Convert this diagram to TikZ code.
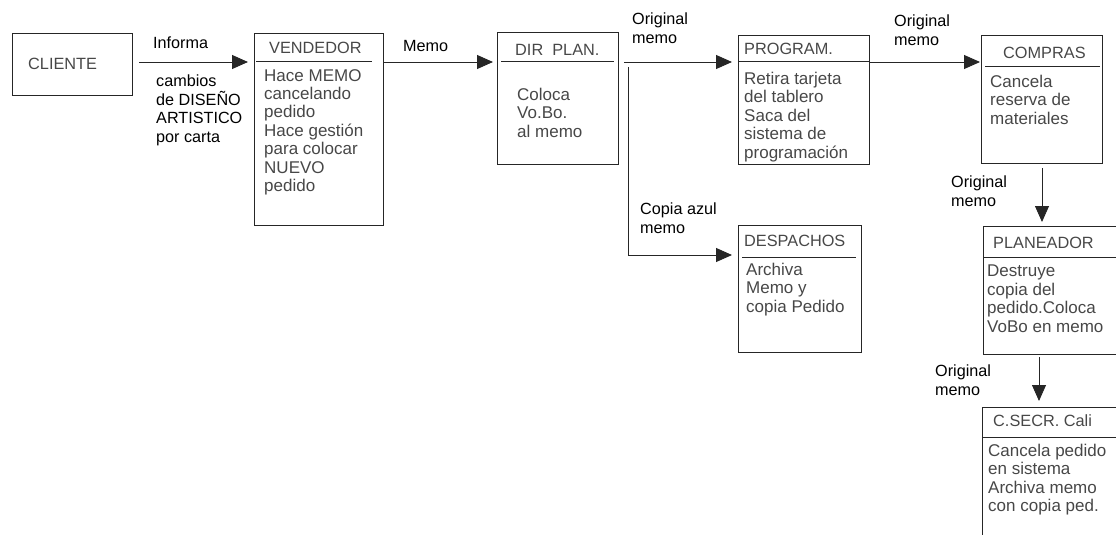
\documentclass[tikz,border=0pt]{standalone}
\usepackage{fontspec}
\setmainfont{Liberation Sans}
\usetikzlibrary{arrows.meta,calc}
\begin{document}
\begin{tikzpicture}[x=1pt,y=-1pt,
  box/.style={draw=black!85,line width=1pt,inner sep=0pt,anchor=north west},
  ttl/.style={anchor=west,inner sep=0pt,text=black!72,font=\fontsize{16.3}{18.4}\selectfont},
  body/.style={anchor=north west,inner sep=0pt,align=left,text=black!72,font=\fontsize{17}{18.4}\selectfont},
  lbl/.style={anchor=north west,inner sep=0pt,align=left,text=black,font=\fontsize{16.2}{18.4}\selectfont},
  sepline/.style={draw=black!85,line width=1pt},
  arr/.style={draw=black!85,line width=0.9pt,-{Triangle[length=16pt,width=14pt]}}]

\useasboundingbox (0,0) rectangle (1116,535);
\clip (0,0) rectangle (1116,535);

% helper coordinates
\coordinate (y62) at (0,62);
\coordinate (y255) at (0,255);
\coordinate (split) at (628,67);
\coordinate (c6) at (1039,0);

% boxes
\node[box,minimum width=120pt,minimum height=62pt] (cliente) at (12,33) {};
\node[box,minimum width=129pt,minimum height=192pt] (vend) at (254,33) {};
\node[box,minimum width=121pt,minimum height=132pt] (dir) at (497,32) {};
\node[box,minimum width=131pt,minimum height=129pt] (prog) at (738,35) {};
\node[box,minimum width=121pt,minimum height=128pt] (comp) at (981,35) {};
\node[box,minimum width=123pt,minimum height=127pt] (desp) at (738,225) {};
\node[box,minimum width=140pt,minimum height=128pt] (plan) at (983,226) {};
\node[box,minimum width=140pt,minimum height=140pt] (csecr) at (982,407) {};

% separators
\draw[sepline] ($(vend.north west)+(2,29)$) -- ++(116,0);
\draw[sepline] ($(dir.north west)+(4,30)$) -- ++(113,0);
\draw[sepline] ($(prog.north west)+(0,27)$) -- ++(131,0);
\draw[sepline] ($(comp.north west)+(4,32)$) -- ++(115,0);
\draw[sepline] ($(desp.north west)+(4,32)$) -- ++(114,0);
\draw[sepline] ($(plan.north west)+(0,31)$) -- ++(140,0);
\draw[sepline] ($(csecr.north west)+(0,30)$) -- ++(140,0);

% titles
\node[ttl] (t-cliente) at (28,63.5) {CLIENTE};
\node[ttl] (t-vend) at (269,47.5) {VENDEDOR};
\node[ttl] (t-dir) at (515,49.5) {DIR\ \ PLAN.};
\node[ttl] (t-prog) at (744,49) {PROGRAM.};
\node[ttl] (t-comp) at (1003,52.5) {COMPRAS};
\node[ttl] (t-desp) at (744,241) {DESPACHOS};
\node[ttl] (t-plan) at (993,243) {PLANEADOR};
\node[ttl] (t-csecr) at (993,421) {C.SECR. Cali};

% bodies
\node[body] (b-vend) at (264,69) {Hace MEMO\\cancelando\\pedido\\Hace gestión\\para colocar\\NUEVO\\pedido};
\node[body] (b-dir) at (517,88) {Coloca\\Vo.Bo.\\al memo};
\node[body] (b-prog) at (744,72) {Retira tarjeta\\del tablero\\Saca del\\sistema de\\programación};
\node[body] (b-comp) at (990,75) {Cancela\\reserva de\\materiales};
\node[body] (b-desp) at (746,263) {Archiva\\Memo y\\copia Pedido};
\node[body] (b-plan) at (987,265) {Destruye\\copia del\\pedido.Coloca\\VoBo en memo};
\node[body] (b-csecr) at (988,444) {Cancela pedido\\en sistema\\Archiva memo\\con copia ped.};

% connectors
\draw[arr,shorten <=6pt,shorten >=6pt] (cliente.east |- y62) -- (vend.west |- y62);
\draw[arr,shorten >=4pt] (vend.east |- y62) -- (dir.west |- y62);
\draw[arr,shorten <=5pt,shorten >=6pt] (dir.east |- y62) -- (prog.west |- y62);
\draw[arr,shorten >=6pt] (split) |- (desp.west |- y255);
\draw[arr,shorten >=1pt] (prog.east |- y62) -- (comp.west |- y62);
\draw[arr,shorten <=4pt,shorten >=4pt] (comp.south) -- (comp.south |- plan.north);
\draw[arr,shorten <=2pt,shorten >=6pt] (plan.south -| c6) -- (csecr.north -| c6);

% labels
\node[lbl] (l-inf) at (153,37) {Informa};
\node[lbl] (l-camb) at (156,75) {cambios\\de DISEÑO\\ARTISTICO\\por carta};
\node[lbl] (l-memo) at (403,40) {Memo};
\node[lbl] (l-o1) at (632,13) {Original\\memo};
\node[lbl] (l-o2) at (894,15) {Original\\memo};
\node[lbl] (l-copia) at (640,203) {Copia azul\\memo};
\node[lbl] (l-o3) at (951,176) {Original\\memo};
\node[lbl] (l-o4) at (935,365) {Original\\memo};
\end{tikzpicture}
\end{document}
